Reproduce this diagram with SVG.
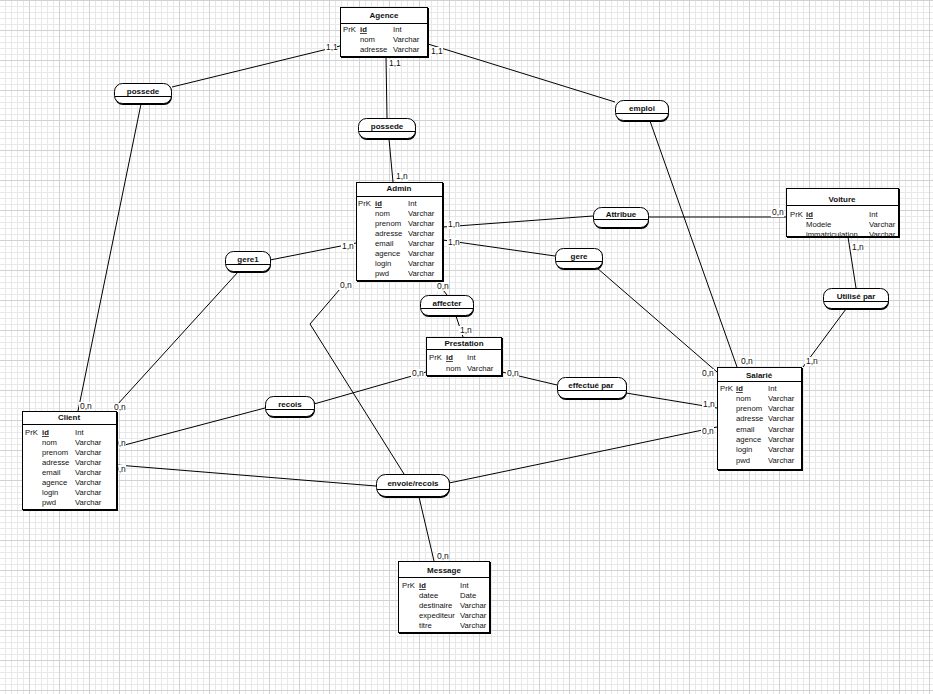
<svg xmlns="http://www.w3.org/2000/svg" width="933" height="694" viewBox="0 0 933 694">
<defs>
<pattern id="grid" x="-1" y="0" width="30" height="30" patternUnits="userSpaceOnUse">
<path d="M6.5 0V30M12.5 0V30M18.5 0V30M24.5 0V30M0 6.5H30M0 12.5H30M0 18.5H30M0 24.5H30" stroke="#e8e8e8" stroke-width="1" fill="none"/>
<path d="M0.5 0V30M0 0.5H30" stroke="#d2d2d2" stroke-width="1" fill="none"/>
</pattern>
</defs>
<style>
text{font-family:"Liberation Sans",Arial,sans-serif;font-size:7.7px;fill:#111}
.t{font-weight:bold;text-anchor:middle;font-size:8px}
.r{font-weight:bold;text-anchor:middle;font-size:8px}
.k{text-decoration:underline;font-weight:bold}
.c{font-size:8.5px}
.box{fill:#fff;stroke:#000;stroke-width:1}
.sh{fill:#000}
.sep{stroke:#000;stroke-width:1}
.lnk{stroke:#000;stroke-width:1;fill:none}
.lb{fill:#fff}
</style>
<rect width="933" height="694" fill="#fff"/>
<rect width="933" height="694" fill="url(#grid)"/>

<g id="connectors">
<path class="lnk" d="M340 46L172 87"/>
<path class="lnk" d="M141 104L78 411"/>
<path class="lnk" d="M386 57L387 118"/>
<path class="lnk" d="M389 139L393 182"/>
<path class="lnk" d="M428 44L615 102"/>
<path class="lnk" d="M650 121L737 367"/>
<path class="lnk" d="M443 227L593 216"/>
<path class="lnk" d="M648 217L786 217"/>
<path class="lnk" d="M848 237L856 288"/>
<path class="lnk" d="M846 309L803 367"/>
<path class="lnk" d="M356 243L270 260"/>
<path class="lnk" d="M238 272L117 405"/>
<path class="lnk" d="M443 240L555 256"/>
<path class="lnk" d="M597 268L717 372"/>
<path class="lnk" d="M436 281L447 295"/>
<path class="lnk" d="M456 316L463 337"/>
<path class="lnk" d="M346 282L310 324L404 474"/>
<path class="lnk" d="M117 447L265 408"/>
<path class="lnk" d="M314 404L426 372"/>
<path class="lnk" d="M502 372L557 385"/>
<path class="lnk" d="M626 393L717 408"/>
<path class="lnk" d="M117 465L376 486"/>
<path class="lnk" d="M449 483L717 427"/>
<path class="lnk" d="M419 497L434 561"/>
</g>

<g id="cardinalities">
<rect class="lb" x="325" y="43" width="12" height="9"/><text class="c" x="326" y="50">1,1</text>
<rect class="lb" x="79" y="402" width="13" height="9"/><text class="c" x="80" y="409">0,n</text>
<rect class="lb" x="388" y="59" width="12" height="9"/><text class="c" x="389" y="66">1,1</text>
<rect class="lb" x="395" y="172" width="13" height="9"/><text class="c" x="396" y="179">1,n</text>
<rect class="lb" x="430" y="47" width="13" height="9"/><text class="c" x="431" y="54">1,1</text>
<rect class="lb" x="740" y="357" width="13" height="9"/><text class="c" x="741" y="364">0,n</text>
<rect class="lb" x="447" y="220" width="13" height="9"/><text class="c" x="448" y="227">1,n</text>
<rect class="lb" x="771" y="208" width="13" height="9"/><text class="c" x="772" y="215">0,n</text>
<rect class="lb" x="851" y="243" width="13" height="9"/><text class="c" x="852" y="250">1,n</text>
<rect class="lb" x="805" y="357" width="13" height="9"/><text class="c" x="806" y="364">1,n</text>
<rect class="lb" x="341" y="242" width="13" height="9"/><text class="c" x="342" y="249">1,n</text>
<rect class="lb" x="113" y="403" width="13" height="9"/><text class="c" x="114" y="410">0,n</text>
<rect class="lb" x="447" y="238" width="13" height="9"/><text class="c" x="448" y="245">1,n</text>
<rect class="lb" x="701" y="369" width="13" height="9"/><text class="c" x="702" y="376">0,n</text>
<rect class="lb" x="436" y="282" width="13" height="9"/><text class="c" x="437" y="289">0,n</text>
<rect class="lb" x="459" y="326" width="13" height="9"/><text class="c" x="460" y="333">1,n</text>
<rect class="lb" x="339" y="281" width="13" height="9"/><text class="c" x="340" y="288">0,n</text>
<rect class="lb" x="113" y="439" width="13" height="9"/><text class="c" x="114" y="446">0,n</text>
<rect class="lb" x="411" y="369" width="13" height="9"/><text class="c" x="412" y="376">0,n</text>
<rect class="lb" x="506" y="369" width="13" height="9"/><text class="c" x="507" y="376">0,n</text>
<rect class="lb" x="702" y="400" width="13" height="9"/><text class="c" x="703" y="407">1,n</text>
<rect class="lb" x="113" y="465" width="13" height="9"/><text class="c" x="114" y="472">0,n</text>
<rect class="lb" x="701" y="427" width="13" height="9"/><text class="c" x="702" y="434">0,n</text>
<rect class="lb" x="436" y="552" width="13" height="9"/><text class="c" x="437" y="559">0,n</text>
</g>

<g id="agence">
<rect class="sh" x="341" y="8" width="88" height="50"/>
<rect class="box" x="340.5" y="7.5" width="87" height="49"/>
<line class="sep" x1="340" y1="23.5" x2="428" y2="23.5"/>
<text class="t" x="384" y="18">Agence</text>
<text x="343" y="32">PrK</text><text class="k" x="360" y="32">id</text><text x="393" y="32">Int</text>
<text x="360" y="42">nom</text><text x="393" y="42">Varchar</text>
<text x="360" y="52">adresse</text><text x="393" y="52">Varchar</text>
</g>

<g id="admin">
<rect class="sh" x="357" y="183" width="87" height="99"/>
<rect class="box" x="356.5" y="182.5" width="86" height="98"/>
<line class="sep" x1="356" y1="196.5" x2="443" y2="196.5"/>
<text class="t" x="399" y="191">Admin</text>
<text x="358" y="206">PrK</text><text class="k" x="375" y="206">id</text><text x="408" y="206">Int</text>
<text x="375" y="216">nom</text><text x="408" y="216">Varchar</text>
<text x="375" y="226">prenom</text><text x="408" y="226">Varchar</text>
<text x="375" y="236">adresse</text><text x="408" y="236">Varchar</text>
<text x="375" y="246">email</text><text x="408" y="246">Varchar</text>
<text x="375" y="256">agence</text><text x="408" y="256">Varchar</text>
<text x="375" y="266">login</text><text x="408" y="266">Varchar</text>
<text x="375" y="276">pwd</text><text x="408" y="276">Varchar</text>
</g>

<g id="client">
<rect class="sh" x="23" y="412" width="95" height="99"/>
<rect class="box" x="22.5" y="411.5" width="94" height="98"/>
<line class="sep" x1="22" y1="424.5" x2="117" y2="424.5"/>
<text class="t" x="69" y="420">Client</text>
<text x="25" y="435">PrK</text><text class="k" x="42" y="435">id</text><text x="75" y="435">Int</text>
<text x="42" y="445">nom</text><text x="75" y="445">Varchar</text>
<text x="42" y="455">prenom</text><text x="75" y="455">Varchar</text>
<text x="42" y="465">adresse</text><text x="75" y="465">Varchar</text>
<text x="42" y="475">email</text><text x="75" y="475">Varchar</text>
<text x="42" y="485">agence</text><text x="75" y="485">Varchar</text>
<text x="42" y="495">login</text><text x="75" y="495">Varchar</text>
<text x="42" y="505">pwd</text><text x="75" y="505">Varchar</text>
</g>

<g id="salarie">
<rect class="sh" x="718" y="368" width="85" height="103"/>
<rect class="box" x="717.5" y="367.5" width="84" height="102"/>
<line class="sep" x1="717" y1="381.5" x2="802" y2="381.5"/>
<text class="t" x="759" y="378">Salarié</text>
<text x="720" y="391">PrK</text><text class="k" x="736" y="391">id</text><text x="768" y="391">Int</text>
<text x="736" y="401">nom</text><text x="768" y="401">Varchar</text>
<text x="736" y="411">prenom</text><text x="768" y="411">Varchar</text>
<text x="736" y="421">adresse</text><text x="768" y="421">Varchar</text>
<text x="736" y="432">email</text><text x="768" y="432">Varchar</text>
<text x="736" y="442">agence</text><text x="768" y="442">Varchar</text>
<text x="736" y="452">login</text><text x="768" y="452">Varchar</text>
<text x="736" y="463">pwd</text><text x="768" y="463">Varchar</text>
</g>

<g id="voiture">
<rect class="sh" x="787" y="189" width="113" height="49"/>
<rect class="box" x="786.5" y="188.5" width="112" height="48"/>
<line class="sep" x1="786" y1="205.5" x2="899" y2="205.5"/>
<text class="t" x="842" y="202">Voiture</text>
<text x="790" y="217">PrK</text><text class="k" x="806" y="217">id</text><text x="869" y="217">Int</text>
<text x="806" y="227">Modele</text><text x="869" y="227">Varchar</text>
<text x="806" y="237">immatriculation</text><text x="869" y="237">Varchar</text>
</g>

<g id="message">
<rect class="sh" x="399" y="562" width="92" height="72"/>
<rect class="box" x="398.5" y="561.5" width="91" height="71"/>
<line class="sep" x1="398" y1="577.5" x2="490" y2="577.5"/>
<text class="t" x="444" y="573">Message</text>
<text x="402" y="588">PrK</text><text class="k" x="419" y="588">id</text><text x="460" y="588">Int</text>
<text x="419" y="598">datee</text><text x="460" y="598">Date</text>
<text x="419" y="608">destinaire</text><text x="460" y="608">Varchar</text>
<text x="419" y="618">expediteur</text><text x="460" y="618">Varchar</text>
<text x="419" y="628">titre</text><text x="460" y="628">Varchar</text>
</g>

<g id="prestation">
<rect class="sh" x="427" y="338" width="76" height="39"/>
<rect class="box" x="426.5" y="337.5" width="75" height="38"/>
<line class="sep" x1="426" y1="349.5" x2="502" y2="349.5"/>
<text class="t" x="464" y="346">Prestation</text>
<text x="429" y="360">PrK</text><text class="k" x="446" y="360">id</text><text x="467" y="360">Int</text>
<text x="446" y="371">nom</text><text x="467" y="371">Varchar</text>
</g>

<g id="possede1">
<rect class="sh" x="115" y="84" width="57" height="21" rx="8"/>
<rect class="box" x="114.5" y="83.5" width="57" height="20" rx="8"/>
<line class="sep" x1="115" y1="96.5" x2="171" y2="96.5"/>
<text class="r" x="143" y="94">possede</text>
</g>
<g id="possede2">
<rect class="sh" x="359" y="119" width="57" height="21" rx="8"/>
<rect class="box" x="358.5" y="118.5" width="57" height="20" rx="8"/>
<line class="sep" x1="359" y1="131.5" x2="415" y2="131.5"/>
<text class="r" x="387" y="129">possede</text>
</g>
<g id="emploi">
<rect class="sh" x="616" y="101" width="53" height="21" rx="8"/>
<rect class="box" x="615.5" y="100.5" width="53" height="20" rx="8"/>
<line class="sep" x1="616" y1="113.5" x2="668" y2="113.5"/>
<text class="r" x="642" y="111">emploi</text>
</g>
<g id="attribue">
<rect class="sh" x="594" y="208" width="55" height="21" rx="8"/>
<rect class="box" x="593.5" y="207.5" width="55" height="20" rx="8"/>
<line class="sep" x1="594" y1="219.5" x2="648" y2="219.5"/>
<text class="r" x="621" y="217">Attribue</text>
</g>
<g id="gere1">
<rect class="sh" x="226" y="252" width="45" height="21" rx="8"/>
<rect class="box" x="225.5" y="251.5" width="45" height="20" rx="8"/>
<line class="sep" x1="226" y1="264.5" x2="270" y2="264.5"/>
<text class="r" x="248" y="262">gere1</text>
</g>
<g id="gere">
<rect class="sh" x="556" y="249" width="47" height="21" rx="8"/>
<rect class="box" x="555.5" y="248.5" width="47" height="20" rx="8"/>
<line class="sep" x1="556" y1="261.5" x2="602" y2="261.5"/>
<text class="r" x="579" y="259">gere</text>
</g>
<g id="affecter">
<rect class="sh" x="421" y="296" width="53" height="21" rx="8"/>
<rect class="box" x="420.5" y="295.5" width="53" height="20" rx="8"/>
<line class="sep" x1="421" y1="308.5" x2="473" y2="308.5"/>
<text class="r" x="447" y="306">affecter</text>
</g>
<g id="utilise">
<rect class="sh" x="824" y="289" width="65" height="21" rx="8"/>
<rect class="box" x="823.5" y="288.5" width="65" height="20" rx="8"/>
<line class="sep" x1="824" y1="301.5" x2="888" y2="301.5"/>
<text class="r" x="856" y="299">Utilisé par</text>
</g>
<g id="recois">
<rect class="sh" x="266" y="397" width="49" height="21" rx="8"/>
<rect class="box" x="265.5" y="396.5" width="49" height="20" rx="8"/>
<line class="sep" x1="266" y1="409.5" x2="314" y2="409.5"/>
<text class="r" x="290" y="407">recois</text>
</g>
<g id="effectue">
<rect class="sh" x="558" y="378" width="69" height="22" rx="8"/>
<rect class="box" x="557.5" y="377.5" width="69" height="21" rx="8"/>
<line class="sep" x1="558" y1="390.5" x2="626" y2="390.5"/>
<text class="r" x="591" y="388">effectué par</text>
</g>
<g id="envoie">
<rect class="sh" x="377" y="475" width="73" height="23" rx="9"/>
<rect class="box" x="376.5" y="474.5" width="73" height="22" rx="9"/>
<line class="sep" x1="377" y1="489.5" x2="449" y2="489.5"/>
<text class="r" x="413" y="486">envoie/recois</text>
</g>
</svg>
